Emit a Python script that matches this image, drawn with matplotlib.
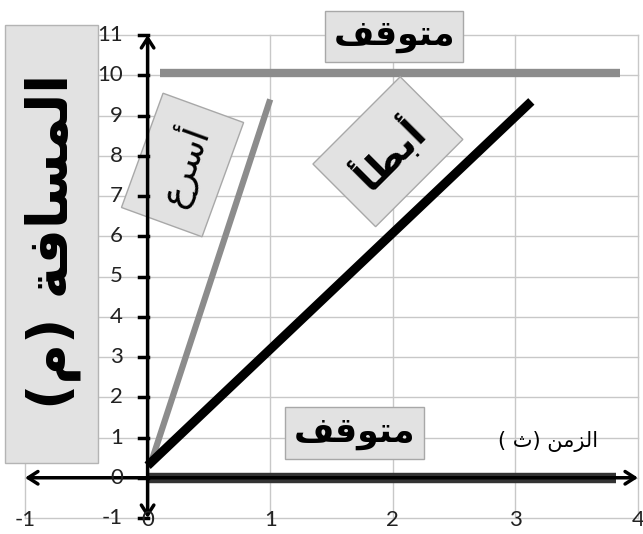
import numpy as np
import matplotlib
matplotlib.use('Agg')
import matplotlib.pyplot as plt
from matplotlib.patches import Rectangle

# ticks
x_ticks = [-1, 0, 1, 2, 3, 4]
y_ticks = list(range(-1, 12))

# lines (start / end points)
stop_top_x = [0.10, 3.85]
stop_top_y = [10.05, 10.05]
fast_x = [0.02, 1.00]
fast_y = [0.30, 9.40]
slow_x = [0.00, 3.13]
slow_y = [0.30, 9.35]
stop_bot_x = [0.00, 3.82]
stop_bot_y = [0.00, 0.00]

# Arabic text, presentation forms in visual order
lbl_dist = '(\uFEE1) \uFE94\uFED3\uFE8E\uFEB4\uFEE4\uFEDF\uFE8D'   # المسافة (م)
lbl_fast = '\uFEC9\uFEAE\uFEB3\uFE83'                              # أسرع
lbl_slow = '\uFE84\uFEC4\uFE91\uFE83'                              # أبطأ
lbl_stop = '\uFED2\uFED7\uFEEE\uFE98\uFEE3'                        # متوقف
lbl_time = '( \uFE99) \uFEE6\uFEE3\uFEB0\uFEDF\uFE8D'              # الزمن (ث)

fig = plt.figure(figsize=(6.43, 5.34), dpi=100)
ax = fig.add_axes([25/643, 16/534, 613/643, 483/534])
ax.set_xlim(-1, 4)
ax.set_ylim(-1, 11)
ax.axis('off')

# grid
for xv in x_ticks:
    ax.plot([xv, xv], [-1, 11], color='#c8c8c8', lw=1, zorder=0, clip_on=False)
for yv in y_ticks:
    ax.plot([-1, 4], [yv, yv], color='#c8c8c8', lw=1, zorder=0, clip_on=False)

# data lines
ax.plot(stop_top_x, stop_top_y, color='#8c8c8c', lw=6, solid_capstyle='butt', zorder=3)
ax.plot(fast_x, fast_y, color='#8c8c8c', lw=4.5, solid_capstyle='butt', zorder=3)
ax.plot(slow_x, slow_y, color='black', lw=6.5, solid_capstyle='butt', zorder=3)
ax.plot(stop_bot_x, stop_bot_y, color='#333333', lw=7.5, solid_capstyle='butt', zorder=3)

# axes with arrows
arr = dict(arrowstyle='<->,head_length=0.7,head_width=0.45', lw=2.5, color='black',
           shrinkA=0, shrinkB=0)
ax.annotate('', xy=(4, 0), xytext=(-1, 0), arrowprops=arr, zorder=4, annotation_clip=False)
ax.annotate('', xy=(0, 11), xytext=(0, -1), arrowprops=arr, zorder=4, annotation_clip=False)

# tick marks + labels
for yv in y_ticks:
    ax.plot([-0.07, 0], [yv, yv], color='black', lw=2.5, zorder=4, clip_on=False)
    ax.text(-0.2, yv, str(yv), ha='right', va='center', fontsize=16,
            family='Lato', color='#222222', zorder=6)
for xv in x_ticks:
    ax.text(xv, -1.05, str(xv), ha='center', va='center', fontsize=16,
            family='Lato', color='#222222', zorder=6, clip_on=False)

# y label box
ax.add_patch(Rectangle((-1.163, 0.366), 0.758, 10.88, facecolor='#e2e2e2',
                       edgecolor='#b4b4b4', lw=1, zorder=2, clip_on=False))
ax.text(-0.77, 5.86, lbl_dist, rotation=90, ha='center', va='center', fontsize=40,
        fontweight='bold', family='DejaVu Sans', zorder=5)

box = dict(boxstyle='square,pad=0.25', facecolor='#e2e2e2', edgecolor='#a8a8a8', lw=1)
ax.text(2.01, 10.97, lbl_stop, ha='center', va='center', fontsize=25, fontweight='bold',
        family='DejaVu Sans', bbox=box, zorder=5)
ax.text(1.69, 1.11, lbl_stop, ha='center', va='center', fontsize=25, fontweight='bold',
        family='DejaVu Sans', bbox=box, zorder=5)

rbox = dict(boxstyle='square,pad=0.55', facecolor='#e2e2e2', edgecolor='#a8a8a8', lw=1)
ax.text(0.285, 7.77, lbl_fast, rotation=70, rotation_mode='anchor', ha='center', va='center',
        fontsize=26, family='DejaVu Sans', bbox=rbox, zorder=2)
ax.text(1.96, 8.1, lbl_slow, rotation=45, rotation_mode='anchor', ha='center', va='center',
        fontsize=28, fontweight='bold', family='DejaVu Sans', bbox=rbox, zorder=5)

ax.text(3.27, 0.9, lbl_time, ha='center', va='center', fontsize=15,
        family='DejaVu Sans', zorder=5)

fig.savefig('out.png', dpi=100)
